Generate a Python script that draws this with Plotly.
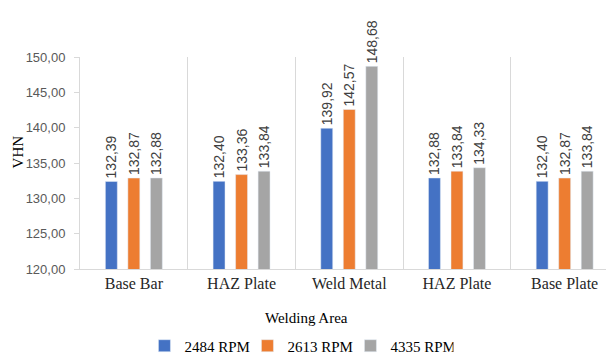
import plotly.graph_objects as go

categories = ["Base Bar", "HAZ Plate", "Weld Metal", "HAZ Plate", "Base Plate"]
series_names = ["2484 RPM", "2613 RPM", "4335 RPM"]
rpm_2484 = [132.39, 132.40, 139.92, 132.88, 132.40]
rpm_2613 = [132.87, 133.36, 142.57, 133.84, 132.87]
rpm_4335 = [132.88, 133.84, 148.68, 134.33, 133.84]
y_ticks = [120, 125, 130, 135, 140, 145, 150]

colors = ["#4472C4", "#ED7D31", "#A5A5A5"]
x_pos = list(range(len(categories)))
boundaries = [i + 0.5 for i in x_pos[:-1]]

fig = go.Figure()
for name, vals, col in zip(series_names, [rpm_2484, rpm_2613, rpm_4335], colors):
    fig.add_trace(go.Bar(
        x=x_pos, y=vals, name=name, marker_color=col,
        texttemplate="%{y:.2f}", textposition="outside", textangle=-90,
        textfont=dict(family="Liberation Sans", size=14, color="#404040"),
        constraintext="none",
        cliponaxis=False,
    ))

# page body has an 8px margin: figure is 606x351 so it ends at the window edge
fig.update_layout(
    width=606, height=351,
    margin=dict(l=72, r=0, t=49, b=90, autoexpand=False),
    paper_bgcolor="white", plot_bgcolor="white",
    barmode="group", bargap=0.373, bargroupgap=0.47,
    separators=", ",
    showlegend=True,
    legend=dict(orientation="h", x=0.41, xanchor="center", y=-0.363, yanchor="middle",
                font=dict(family="Liberation Serif", size=15, color="#000000"),
                itemwidth=30, entrywidth=58, entrywidthmode="pixels",
                tracegroupgap=0, itemclick=False),
    xaxis=dict(
        range=[-0.5, 4.458],
        tickvals=x_pos, ticktext=categories,
        tickfont=dict(family="Liberation Serif", size=16, color="#262626"),
        showgrid=False, zeroline=False,
        showline=True, linecolor="#d9d9d9", linewidth=1,
        ticks="",
        minor=dict(tickvals=boundaries, showgrid=True, gridcolor="#d9d9d9", gridwidth=1, ticks=""),
    ),
    yaxis=dict(
        range=[120, 150], tickvals=y_ticks, tickformat=".2f",
        tickfont=dict(family="Liberation Sans", size=13, color="#595959"),
        showgrid=False, zeroline=False,
        showline=True, linecolor="#d9d9d9", linewidth=1,
        ticks="outside", ticklen=5, tickcolor="#d9d9d9",
        ticklabelstandoff=6,
    ),
    annotations=[
        dict(text="Welding Area", xref="paper", yref="paper", x=0.425, y=-0.23,
             xanchor="center", yanchor="middle", showarrow=False,
             font=dict(family="Liberation Serif", size=15, color="#000000")),
        dict(text="VHN", xref="paper", x=-0.116, yref="paper", y=0.55,
             textangle=-90, xanchor="center", yanchor="middle", showarrow=False,
             font=dict(family="Liberation Serif", size=15, color="#000000")),
    ],
)

fig.write_html("out.html")
